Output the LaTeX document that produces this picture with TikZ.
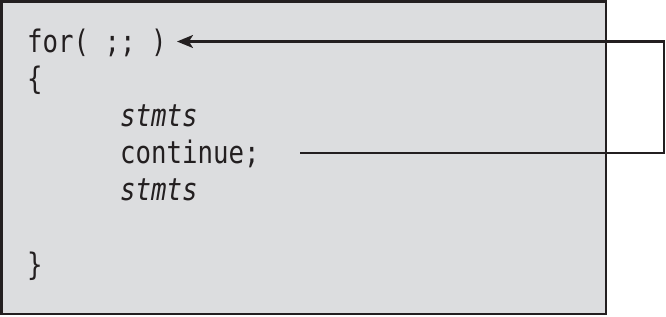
\documentclass[tikz,border=0pt]{standalone}
\usepackage{fontspec}
\usetikzlibrary{arrows.meta}
\newfontfamily\codefont[FakeStretch=0.83]{DejaVu Sans Mono}
\definecolor{panel}{RGB}{220,221,223}
\definecolor{ink}{RGB}{35,31,32}
\begin{document}
\begin{tikzpicture}[x=1pt,y=-1pt,
  code/.style={anchor=base west,inner sep=0pt,font=\codefont\fontsize{31}{31}\selectfont,text=ink},
  flow/.style={draw=ink,line width=2.2pt},
  tip/.style={-{Stealth[length=16pt,width=13pt,inset=4pt]}}]
  \useasboundingbox (0,0) rectangle (666,316);
  % code panel
  \draw[fill=panel,draw=ink,line width=2.8pt] (1.5,1.5) rectangle (606,314);
  % code lines
  \node[code] (for)  at (27,52)  {for( ;; )};
  \node[code] (ob)   at (27,89)  {\{};
  \node[code] (s1)   at (120,126) {\itshape stmts};
  \node[code] (cont) at (120,163) {continue;};
  \node[code] (s2)   at (120,200) {\itshape stmts};
  \node[code] (cb)   at (27,275) {\}};
  % jump from continue back to the loop head
  \coordinate (start) at (300,153);
  \coordinate (head) at (177,41.5);
  \draw[flow,tip] (start) -- (664,153) -- (664,41.5) -- (head);
\end{tikzpicture}
\end{document}
